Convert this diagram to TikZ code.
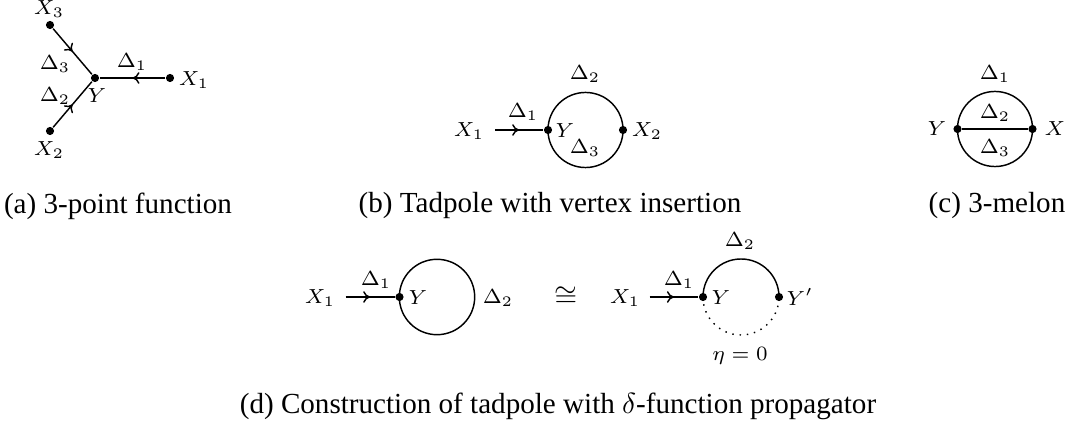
\documentclass[tikz,border=0pt]{standalone}
\usepackage{fontspec}
\setmainfont{Liberation Serif}
\usetikzlibrary{decorations.markings,arrows.meta}
\begin{document}
\begin{tikzpicture}[x=0.3436pt,y=-0.3436pt,line width=0.5pt,
  dot/.style={circle,fill=black,inner sep=0pt,minimum size=2.8pt},
  lbl/.style={font=\scriptsize,inner sep=0pt},
  captext/.style={font=\normalsize,inner sep=0pt},
  fermion/.style={postaction={decorate},decoration={markings,mark=at position 0.5 with {\arrow{Computer Modern Rightarrow[length=2.4pt,width=4pt]}}}}]
\useasboundingbox (0,0) rectangle (1068,425);
% (a)
\node[dot] (a3) at (50,25) {};
\node[dot] (aY) at (95,78) {};
\node[dot] (a1) at (170,78) {};
\node[dot] (a2) at (50,131) {};
\draw[fermion] (a3) -- (aY);
\draw[fermion] (a1) -- (aY);
\draw[fermion] (a2) -- (aY);
\node[lbl] (la3) at (49,9) {$X_3$};
\node[lbl] (la1) at (194,80) {$X_1$};
\node[lbl] (la2) at (49,150) {$X_2$};
\node[lbl] (lad1) at (132,62) {$\Delta_1$};
\node[lbl] (lad3) at (55,64) {$\Delta_3$};
\node[lbl] (lad2) at (55,96) {$\Delta_2$};
\node[lbl] (laY) at (97,96) {$Y$};
\node[captext] (capa) at (118,206) {(a) 3-point function};
% (b)
\coordinate (bs) at (495,130);
\coordinate (bc) at (585.5,130);
\node[dot] (bY) at (548,130) {};
\node[dot] (b2) at (623,130) {};
\draw[fermion] (bs) -- (bY);
\draw (bc) circle[radius=12.9pt];
\node[lbl] (lb1) at (469,131) {$X_1$};
\node[lbl] (lbY) at (565,131) {$Y$};
\node[lbl] (lb2) at (647,131) {$X_2$};
\node[lbl] (lbd1) at (523,112) {$\Delta_1$};
\node[lbl] (lbd2) at (585,74) {$\Delta_2$};
\node[lbl] (lbd3) at (585,148) {$\Delta_3$};
\node[captext] (capb) at (550,206) {(b) Tadpole with vertex insertion};
% (c)
\coordinate (cc) at (995,129);
\node[dot] (cY) at (957.5,129) {};
\node[dot] (cX) at (1032.5,129) {};
\draw (cc) circle[radius=12.9pt];
\draw (cY) -- (cX);
\node[lbl] (lcY) at (937,129) {$Y$};
\node[lbl] (lcX) at (1055,129) {$X$};
\node[lbl] (lcd1) at (995,74) {$\Delta_1$};
\node[lbl] (lcd2) at (995,113) {$\Delta_2$};
\node[lbl] (lcd3) at (995,148) {$\Delta_3$};
\node[captext] (capc) at (997,206) {(c) 3-melon};
% (d) left
\coordinate (ds) at (345.5,297);
\coordinate (dc) at (437,297);
\node[dot] (dY) at (399.5,297) {};
\draw[fermion] (ds) -- (dY);
\draw (dc) circle[radius=12.95pt];
\node[lbl] (ld1) at (320,298) {$X_1$};
\node[lbl] (ldY) at (418,298) {$Y$};
\node[lbl] (ldd1) at (376,280) {$\Delta_1$};
\node[lbl] (ldd2) at (498,298) {$\Delta_2$};
\node[inner sep=0pt] (cong) at (566,297) {$\cong$};
% (d) right
\coordinate (es) at (649.5,297);
\node[dot] (eY) at (703,297) {};
\node[dot] (eYp) at (779,297) {};
\draw[fermion] (es) -- (eY);
\draw (eY.center) arc[start angle=180,end angle=0,radius=13.06pt];
\draw[dotted] (eY.center) arc[start angle=180,end angle=360,radius=13.06pt];
\node[lbl] (le1) at (625,298) {$X_1$};
\node[lbl] (leY) at (721,298) {$Y$};
\node[lbl] (leYp) at (800,297) {$Y'$};
\node[lbl] (led1) at (679,280) {$\Delta_1$};
\node[lbl] (led2) at (740,241) {$\Delta_2$};
\node[lbl] (leeta) at (740,356) {$\eta=0$};
\node[captext] (capd) at (558,406) {(d) Construction of tadpole with $\delta$-function propagator};
\end{tikzpicture}
\end{document}
